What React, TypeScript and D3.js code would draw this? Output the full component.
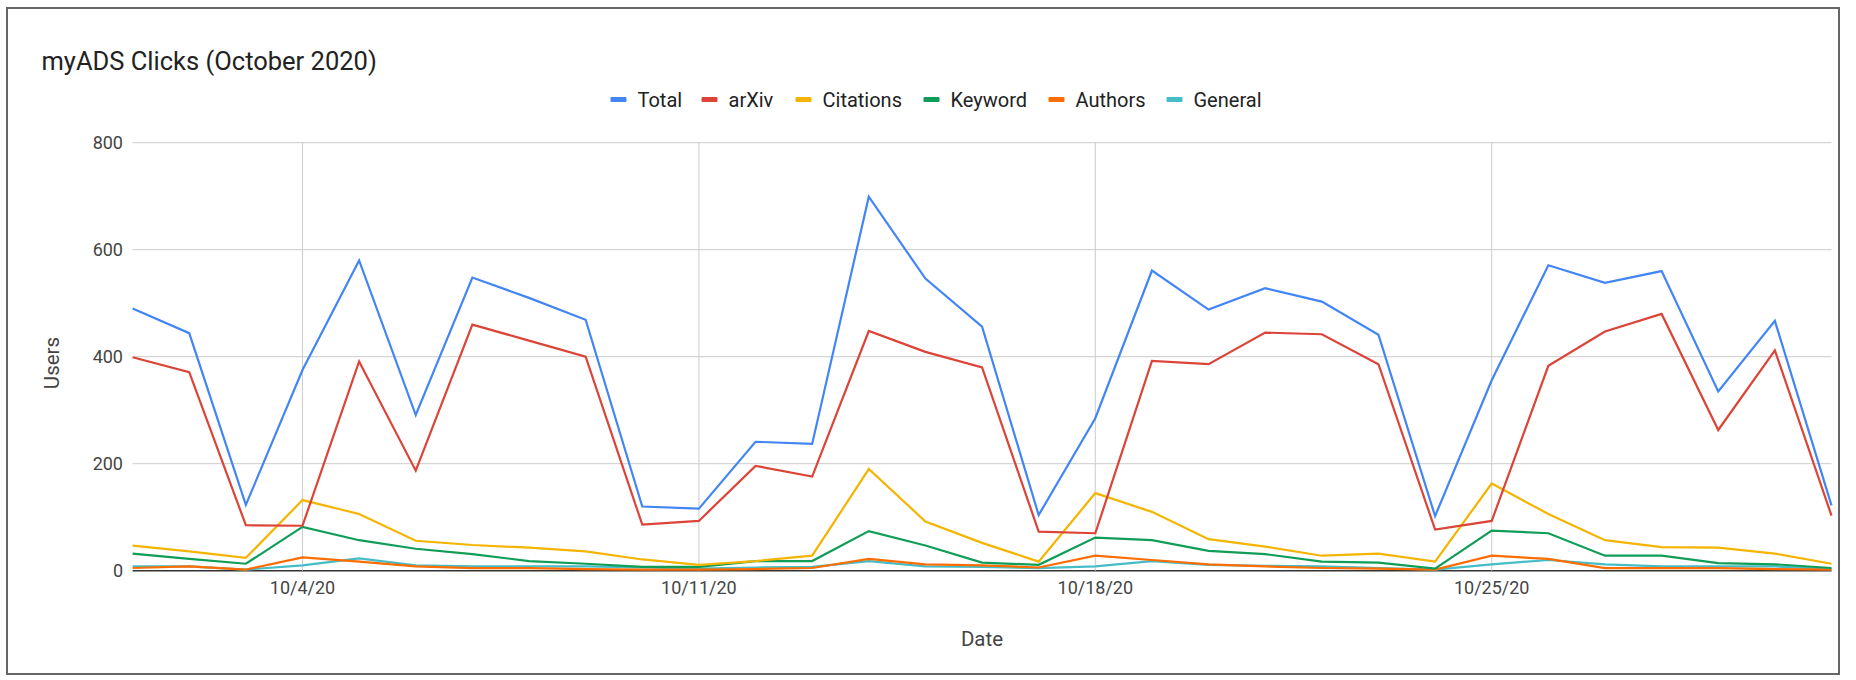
import React from "react";
import * as d3 from "d3";

const days = d3.range(1, 32).map((d) => new Date(2020, 9, d));
const tickDates = [new Date(2020, 9, 4), new Date(2020, 9, 11), new Date(2020, 9, 18), new Date(2020, 9, 25)];
const tickLabels = ["10/4/20", "10/11/20", "10/18/20", "10/25/20"];
const yTicks = [0, 200, 400, 600, 800];

const total = [490, 444, 123, 375, 580, 291, 548, 510, 469, 120, 116, 241, 237, 699, 546, 456, 104, 285, 561, 488, 528, 503, 441, 102, 356, 571, 538, 560, 335, 467, 122];
const arxiv = [399, 371, 85, 84, 391, 187, 460, 430, 400, 86, 93, 196, 176, 448, 409, 380, 73, 70, 392, 386, 445, 442, 386, 77, 93, 383, 447, 480, 263, 412, 103];
const citations = [47, 36, 24, 132, 106, 56, 48, 43, 36, 21, 11, 18, 28, 190, 92, 52, 17, 145, 110, 59, 45, 28, 32, 17, 163, 106, 57, 44, 43, 32, 13];
const keyword = [32, 22, 13, 82, 57, 41, 31, 18, 13, 7, 7, 18, 18, 74, 47, 15, 11, 62, 57, 37, 31, 17, 15, 4, 75, 70, 28, 28, 14, 12, 5];
const authors = [5, 8, 2, 25, 17, 8, 5, 5, 3, 2, 2, 3, 5, 22, 12, 10, 6, 28, 20, 12, 8, 5, 4, 2, 28, 22, 5, 5, 5, 3, 2];
const general = [8, 8, 2, 10, 23, 10, 8, 8, 8, 6, 4, 6, 7, 18, 8, 7, 5, 8, 18, 11, 9, 8, 5, 2, 12, 20, 12, 8, 8, 8, 3];

const seriesNames = ["Total", "arXiv", "Citations", "Keyword", "Authors", "General"];
const seriesColors = ["#4285F4", "#DB4437", "#F4B400", "#0F9D58", "#FF6D01", "#46BDC6"];
const seriesValues = [total, arxiv, citations, keyword, authors, general];

const W = 1856;
const H = 680;
const FONT = "Roboto, 'Noto Sans', sans-serif";

export default function App() {
  const x = d3.scaleTime().domain([days[0], days[days.length - 1]]).range([132.6, 1831.5]);
  const y = d3.scaleLinear().domain([0, 800]).range([570.7, 142.7]);
  const line = (vals: number[]) =>
    d3
      .line<number>()
      .x((_, i) => x(days[i]))
      .y((v) => y(v))(vals) || "";

  // legend layout
  const legendFont = 20;
  const charW: Record<string, number> = {};
  const approxWidths = [43, 46, 80, 77, 70, 68];
  let lx = 610.5;
  const legendItems = seriesNames.map((name, i) => {
    const item = { name, color: seriesColors[i], x: lx };
    lx += 16 + 11 + approxWidths[i] + 21;
    return item;
  });

  return (
    <svg width={W} height={H} style={{ position: "absolute", left: 0, top: 0, background: "#fff" }} fontFamily={FONT}>
      <rect x={0} y={0} width={W} height={H} fill="#fff" />
      <rect x={7} y={8} width={1832} height={666} fill="none" stroke="#666" strokeWidth={2} />
      <text x={41.5} y={69.5} fontSize={25.5} fill="#222">
        myADS Clicks (October 2020)
      </text>
      {legendItems.map((it) => (
        <g key={it.name}>
          <rect x={it.x} y={97} width={16} height={5} rx={1} fill={it.color} />
          <text x={it.x + 27} y={99.5} dy="0.35em" fontSize={legendFont} fill="#222">
            {it.name}
          </text>
        </g>
      ))}
      {yTicks.map((t) => (
        <g key={t}>
          <line x1={132.6} x2={1831.5} y1={y(t)} y2={y(t)} stroke={t === 0 ? "#333" : "#ccc"} strokeWidth={t === 0 ? 1.5 : 1} />
          <text x={123} y={y(t)} dy="0.35em" textAnchor="end" fontSize={18} fill="#444">
            {t}
          </text>
        </g>
      ))}
      {tickDates.map((d, i) => (
        <g key={i}>
          <line x1={x(d)} x2={x(d)} y1={142.7} y2={570.7} stroke="#ccc" strokeWidth={1} />
          <text x={x(d)} y={588} dy="0.35em" textAnchor="middle" fontSize={18} fill="#444">
            {tickLabels[i]}
          </text>
        </g>
      ))}
      <text x={982} y={639} dy="0.35em" textAnchor="middle" fontSize={20.5} fill="#444">
        Date
      </text>
      <text transform={`translate(52,363) rotate(-90)`} dy="0.35em" textAnchor="middle" fontSize={20.5} fill="#444">
        Users
      </text>
      {seriesValues
        .map((vals, i) => ({ vals, i }))
        .reverse()
        .map(({ vals, i }) => (
          <path key={i} d={line(vals)} fill="none" stroke={seriesColors[i]} strokeWidth={2.2} strokeLinejoin="miter" />
        ))}
    </svg>
  );
}
